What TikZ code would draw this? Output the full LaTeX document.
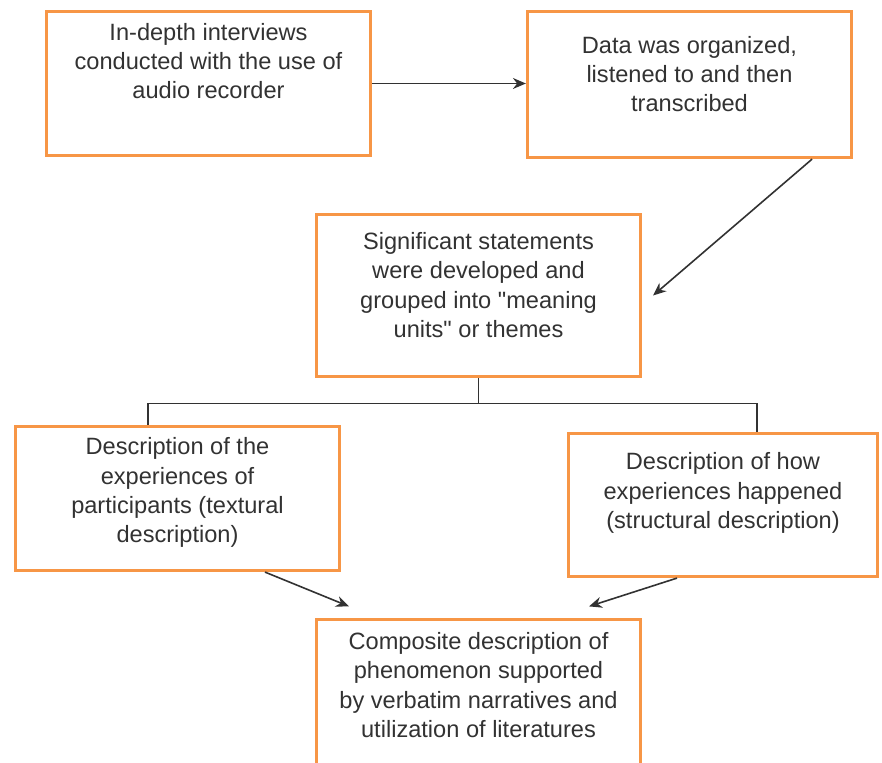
\documentclass[tikz,border=0pt]{standalone}
\usepackage{fontspec}
\setmainfont{Liberation Sans}
\usetikzlibrary{arrows.meta, positioning}

\definecolor{boxorange}{RGB}{247,150,70}
\definecolor{inkgray}{RGB}{50,50,50}

\tikzset{
	stage/.style={draw=boxorange, line width=1.6pt, minimum width=162pt, inner sep=0pt},
	words/.style={align=center, text=inkgray, font=\fontsize{11.8}{14.6}\selectfont, inner sep=0pt},
	link/.style={draw=inkgray, line width=0.8pt}
}

\begin{document}
\begin{tikzpicture}[x=0.5pt, y=-0.5pt, >={Stealth[length=6.5pt, width=5.5pt]}]
	\clip (0,0) rectangle (882,763);

	\node[stage, minimum height=72pt] (int) at (208.5, 83.5) {};
	\node[stage, minimum height=73pt] (org) at (689.5, 84.5) {};
	\node[stage, minimum height=81pt] (stmt) at (478.5, 295.5) {};
	\node[stage, minimum height=72pt] (tex) at (177.5, 498.5) {};
	\node[stage, minimum width=154.5pt, minimum height=71.5pt] (str) at (723, 505) {};
	\node[stage, minimum height=80pt] (comp) at (478.5, 699.5) {};

	\node[words] (intT) at (208.5, 61) {In-depth interviews\\conducted with the use of\\audio recorder};
	\node[words] (orgT) at (689.5, 74) {Data was organized,\\listened to and then\\transcribed};
	\node[words] (stmtT) at (478.5, 285) {Significant statements\\were developed and\\grouped into \textquotedbl meaning\\units\textquotedbl{} or themes};
	\node[words] (texT) at (177.5, 492.5) {Description of the\\experiences of\\participants (textural\\description)};
	\node[words] (strT) at (723, 493) {Description of how\\experiences happened\\(structural description)};
	\node[words] (compT) at (478.5, 685) {Composite description of\\phenomenon supported\\by verbatim narratives and\\utilization of literatures};

	\draw[link, ->] (int.east) -- (int.east -| org.west);
	\draw[link, ->] ([xshift=-20.5pt]org.south east) -- ([xshift=5.5pt]stmt.east);

	\draw[link] (stmt.south) -- ++(0,25.5) coordinate (fork);
	\draw[link] (fork) -| ([xshift=-14.75pt]tex.north);
	\draw[link] (fork) -| ([xshift=17pt]str.north);

	\draw[link, ->] ([xshift=43.75pt]tex.south) -- ([xshift=-64.75pt, yshift=5.75pt]comp.north);
	\draw[link, ->] ([xshift=-23pt]str.south) -- ([xshift=55.25pt, yshift=5.75pt]comp.north);
\end{tikzpicture}
\end{document}
